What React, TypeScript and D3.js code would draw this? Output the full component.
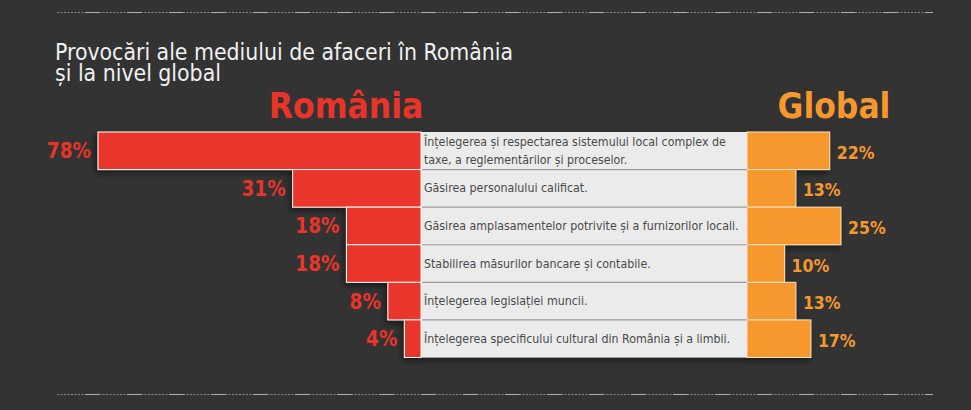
import React, { useEffect, useRef } from "react";
import * as d3 from "d3";

const categories = [
  ["Înțelegerea și respectarea sistemului local complex de", "taxe, a reglementărilor și proceselor."],
  ["Găsirea personalului calificat."],
  ["Găsirea amplasamentelor potrivite și a furnizorilor locali."],
  ["Stabilirea măsurilor bancare și contabile."],
  ["Înțelegerea legislației muncii."],
  ["Înțelegerea specificului cultural din România și a limbii."],
];
const romania = [78, 31, 18, 18, 8, 4];
const global = [22, 13, 25, 10, 13, 17];

const FONT = "'DejaVu Sans Condensed', 'Liberation Sans Narrow', 'Open Sans', sans-serif";
const RED = "#e9342a";
const ORANGE = "#f7982f";

const App = () => {
  const svgRef = useRef<SVGSVGElement>(null);

  useEffect(() => {
    const width = 971;
    const height = 410;
    const svg = d3.select(svgRef.current).attr("width", width).attr("height", height);
    svg.selectAll("*").remove();

    svg.append("rect").attr("width", width).attr("height", height).attr("fill", "#333333");

    const defs = svg.append("defs");
    const f = defs.append("filter").attr("id", "shadow").attr("x", "-10%").attr("y", "-10%").attr("width", "120%").attr("height", "130%");
    f.append("feDropShadow").attr("dx", -2).attr("dy", 3).attr("stdDeviation", 3).attr("flood-color", "#000").attr("flood-opacity", 0.5);

    // dashed separators: dotted runs broken by short solid pieces
    [12.5, 394.5].forEach((y) => {
      svg.append("line").attr("x1", 57).attr("x2", 933).attr("y1", y).attr("y2", y)
        .attr("stroke", "#8a8a8a").attr("stroke-width", 1)
        .attr("stroke-dasharray", "2,1.5");
      svg.append("line").attr("x1", 57).attr("x2", 933).attr("y1", y).attr("y2", y)
        .attr("stroke", "#b0b0b0").attr("stroke-width", 1)
        .attr("stroke-dasharray", "0,28,14,0");
    });

    // title
    const title = svg.append("text").attr("fill", "#f0f0f0")
      .style("font-family", FONT).style("font-size", "22.8px");
    title.append("tspan").attr("x", 55).attr("y", 60).text("Provocări ale mediului de afaceri în România");
    title.append("tspan").attr("x", 55).attr("y", 81).text("și la nivel global");

    svg.append("text").attr("x", 346).attr("y", 118).attr("text-anchor", "middle")
      .attr("fill", RED).style("font-family", FONT).style("font-size", "35px").style("font-weight", "bold")
      .text("România");
    svg.append("text").attr("x", 834).attr("y", 118).attr("text-anchor", "middle")
      .attr("fill", ORANGE).style("font-family", FONT).style("font-size", "35px").style("font-weight", "bold")
      .text("Global");

    const idx = categories.map((_, i) => i);
    const y = d3.scaleBand<number>().domain(idx).range([132, 357.5]).padding(0);
    const panelL = 421;
    const panelR = 747;
    const xRo = d3.scaleLinear().domain([0, 78]).range([0, 323]);
    const xGl = d3.scaleLinear().domain([0, 25]).range([0, 94]);

    const g = svg.append("g").attr("filter", "url(#shadow)");
    g.append("rect").attr("x", panelL).attr("y", y(0)).attr("width", panelR - panelL)
      .attr("height", y.bandwidth() * idx.length).attr("fill", "#ebebeb");

    g.selectAll("rect.ro").data(idx).join("rect").attr("class", "ro")
      .attr("x", (i) => panelL - xRo(romania[i]))
      .attr("y", (i) => y(i))
      .attr("width", (i) => xRo(romania[i]))
      .attr("height", y.bandwidth())
      .attr("fill", RED).attr("stroke", "#fff").attr("stroke-width", 1);

    g.selectAll("rect.gl").data(idx).join("rect").attr("class", "gl")
      .attr("x", panelR)
      .attr("y", (i) => y(i))
      .attr("width", (i) => xGl(global[i]))
      .attr("height", y.bandwidth())
      .attr("fill", ORANGE).attr("stroke", "#fde3c4").attr("stroke-width", 1);

    // panel again on top, with separators
    svg.append("rect").attr("x", panelL + 0.5).attr("y", y(0) + 0.5).attr("width", panelR - panelL - 0.5)
      .attr("height", y.bandwidth() * idx.length - 1).attr("fill", "#ebebeb");
    svg.selectAll("line.sep").data(idx.slice(1)).join("line").attr("class", "sep")
      .attr("x1", panelL + 1).attr("x2", panelR).attr("y1", (i) => y(i)).attr("y2", (i) => y(i))
      .attr("stroke", "#9c9c9c").attr("stroke-width", 1.2);

    // row labels
    idx.forEach((i) => {
      const lines = categories[i];
      const cy = y(i) + y.bandwidth() / 2;
      const t = svg.append("text").attr("fill", "#4a4a4a").style("font-family", FONT).style("font-size", "12.3px");
      lines.forEach((ln, k) => {
        t.append("tspan").attr("x", panelL + 3)
          .attr("y", cy + 4 + (k - (lines.length - 1) / 2) * 18.3)
          .text(ln);
      });
    });

    svg.selectAll("text.rv").data(idx).join("text").attr("class", "rv")
      .attr("x", (i) => panelL - xRo(romania[i]) - 7)
      .attr("y", (i) => y(i) + y.bandwidth() / 2 + 7.5)
      .attr("text-anchor", "end").attr("fill", RED)
      .style("font-family", FONT).style("font-size", "20.5px").style("font-weight", "bold")
      .text((i) => `${romania[i]}%`);

    svg.selectAll("text.gv").data(idx).join("text").attr("class", "gv")
      .attr("x", (i) => panelR + xGl(global[i]) + 7)
      .attr("y", (i) => y(i) + y.bandwidth() / 2 + 8)
      .attr("fill", ORANGE)
      .style("font-family", FONT).style("font-size", "17.5px").style("font-weight", "bold")
      .text((i) => `${global[i]}%`);
  }, []);

  return (
    <div style={{ position: "absolute", left: 0, top: 0 }}>
      <svg ref={svgRef} style={{ display: "block" }}></svg>
    </div>
  );
};

export default App;
